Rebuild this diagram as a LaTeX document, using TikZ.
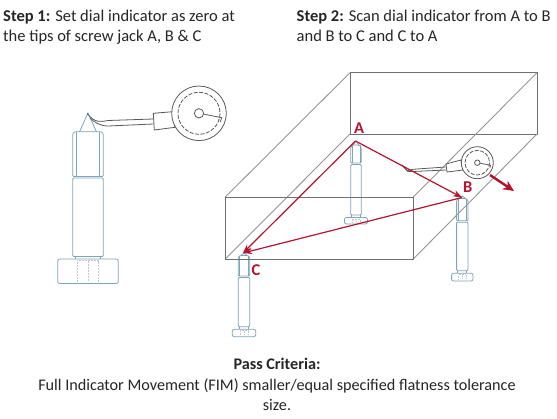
\documentclass[tikz,border=0pt]{standalone}
\usepackage{fontspec}
\setmainfont{Carlito}
\usetikzlibrary{arrows.meta}
\definecolor{steel}{HTML}{7FA5B5}
\definecolor{blockgray}{HTML}{707070}
\definecolor{diaggray}{HTML}{969696}
\definecolor{gaugegray}{HTML}{5A5A5A}
\definecolor{markred}{HTML}{B5142E}
\tikzset{
  caption/.style={anchor=base west,inner sep=0pt,font=\fontsize{16.5}{19}\selectfont,text=black!85},
  passtext/.style={anchor=base,inner sep=0pt,font=\fontsize{16.2}{19}\selectfont,text=black!85},
  jackline/.style={draw=steel,line width=0.8pt},
  blockline/.style={draw=blockgray,line width=1pt},
  diagline/.style={draw=diaggray,line width=0.9pt},
  gaugeline/.style={draw=gaugegray,line width=0.8pt},
  scanline/.style={draw=markred,line width=1.2pt,-{Stealth[length=9pt,width=6.5pt]}},
  tipname/.style={inner sep=0pt,text=markred,font=\fontsize{16.5}{19}\selectfont\bfseries},
}
% cx, tip y, hex half width, hex top, hex bottom, shaft bottom, head half width, head bottom
\newcommand{\screwjack}[8]{
  \draw[jackline] (#1-0.55*#3,#4) -- (#1,#2) -- (#1+0.55*#3,#4);
  \draw[jackline,rounded corners=1pt] (#1-#3,#5) -- (#1-#3,#4+2) -- (#1-#3+2,#4) -- (#1+#3-2,#4) -- (#1+#3,#4+2) -- (#1+#3,#5) -- cycle;
  \draw[jackline,line width=0.5pt] (#1-0.75*#3,#4) -- (#1-0.75*#3,#5) (#1+0.75*#3,#4) -- (#1+0.75*#3,#5);
  \draw[jackline,rounded corners=1pt] (#1-#3,#5+1.5) rectangle (#1+#3,#6);
  \draw[jackline] (#1-0.8*#3,#6) -- (#1-0.8*#3,#6+2.5) (#1+0.8*#3,#6) -- (#1+0.8*#3,#6+2.5);
  \draw[jackline,rounded corners=2pt] (#1-#7,#6+2.5) rectangle (#1+#7,#8);
  \draw[densely dotted,black!22,line width=0.5pt] (#1-0.35*#7,#8-2) -- (#1-0.35*#7,#6+4) -- (#1+0.35*#7,#6+4) -- (#1+0.35*#7,#8-2);
  \draw[densely dotted,black!22,line width=0.5pt] (#1,#6+4) -- (#1,#8-2);
}
% cx, cy, radius
\newcommand{\dialgauge}[3]{
  \draw[gaugeline,fill=white] (#1,#2) circle (#3);
  \draw[gaugeline,dashed,dash pattern=on 4pt off 1.5pt] (#1,#2) circle (0.77*#3);
  \draw[gaugeline] (#1,#2) circle (0.17*#3);
  \draw[gaugeline] (#1+0.17*#3,#2+0.03*#3) -- (#1+0.83*#3,#2+0.16*#3) -- (#1+0.78*#3,#2+0.31*#3);
}

\begin{document}
\begin{tikzpicture}[x=1pt,y=-1pt]
  \useasboundingbox (0,0) rectangle (557,418);
  \fill[white] (0,0) rectangle (557,418);

  \node[caption] (stepone) at (3,21) {\textbf{Step 1:} Set dial indicator as zero at};
  \node[caption] (steponeb) at (3,41) {the tips of screw jack A, B \& C};
  \node[caption] (steptwo) at (296.5,21) {\textbf{Step 2:} Scan dial indicator from A to B};
  \node[caption] (steptwob) at (296.5,41) {and B to C and C to A};

  % left jack and gauge
  \screwjack{88}{113}{15.3}{131.7}{176.5}{256.5}{30.3}{283.5}
  \draw[gaugeline,fill=white] (153.3,113.3) -- (172.7,111.7) -- (175,127.3) -- (154.3,130) -- cycle;
  \draw[gaugeline] (153.3,119) -- (108,120.5) .. controls (100,122) and (95,123) .. (87,113.5);
  \draw[gaugeline] (153.3,124) -- (108,126) .. controls (100,126) and (94,122) .. (90,118);
  \dialgauge{199}{113.3}{27.3}

  % block
  \draw[blockline] (350,72.7) rectangle (537,134);
  \draw[diagline] (225,197.3) -- (350,72.7);
  \draw[diagline] (413,197.3) -- (537,72.7);
  \draw[diagline] (225,259.3) -- (350,134);
  \draw[diagline] (413,259.3) -- (537,134);

  % jacks A, B, C
  \screwjack{356}{141}{5.2}{145}{163}{215}{11.5}{224}
  \screwjack{462.3}{196}{5.7}{198.5}{220.7}{270.7}{10.7}{281}
  \screwjack{244}{253}{5.8}{255.5}{276}{326.7}{11.7}{336.7}
  \draw[blockline] (225,197.3) rectangle (413,259.3);

  % gauge on the block
  \draw[gaugeline,fill=white] (446,164) -- (461,160) -- (463,170) -- (447,172) -- cycle;
  \draw[gaugeline] (445.5,167) -- (413,169.3) -- (407,170.7) -- (402,165);
  \draw[gaugeline] (446,170) -- (413,171.5) -- (408,171.5) -- (402,165);
  \dialgauge{477.3}{162.7}{16}

  \coordinate (tipA) at (355.5,141);
  \coordinate (tipB) at (462,197.5);
  \coordinate (tipC) at (243,253);
  \coordinate (pushS) at (490,175);
  \coordinate (pushE) at (514,191);
  \draw[scanline] (tipA) -- (tipB);
  \draw[scanline] (tipB) -- (tipC);
  \draw[scanline] (tipA) -- (tipC);
  \draw[draw=markred,line width=2.4pt,-{Stealth[length=11pt,width=10pt]}] (pushS) -- (pushE);

  \node[tipname] (labA) at (359,128) {A};
  \node[tipname] (labB) at (467.7,187) {B};
  \node[tipname] (labC) at (256,270) {C};

  \node[passtext] (pass) at (277,369) {\textbf{Pass Criteria:}};
  \node[passtext] (passb) at (277,390) {Full Indicator Movement (FIM) smaller/equal specified flatness tolerance};
  \node[passtext] (passc) at (277,410) {size.};
\end{tikzpicture}
\end{document}
